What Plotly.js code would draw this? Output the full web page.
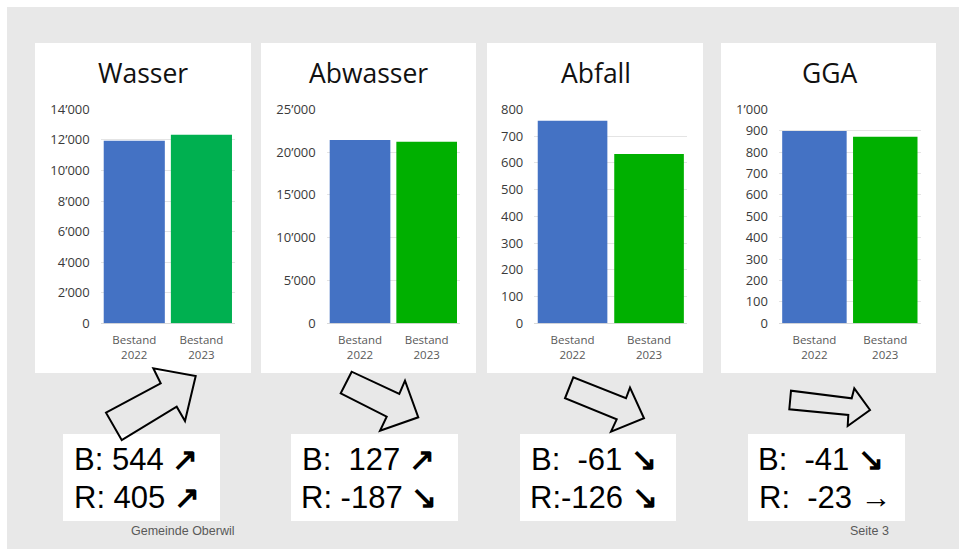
<!DOCTYPE html>
<html>
<head>
<meta charset="utf-8">
<script src="https://cdn.plot.ly/plotly-3.0.1.min.js"></script>
<style>html,body{margin:0;padding:0;background:#fff;}#chart{width:959px;height:549px;}</style>
</head>
<body>
<div id="chart"></div>
<script>
// ---- data ----
var categories = ["Bestand<br>2022", "Bestand<br>2023"];
var panelTitles = ["Wasser", "Abwasser", "Abfall", "GGA"];
var wasser = [11950, 12340];
var abwasser = [21400, 21200];
var abfall = [757, 633];
var gga = [899, 872];
var yMax = [14000, 25000, 800, 1000];
var yStep = [2000, 5000, 100, 100];
var bLabels = ["B: 544 ↗", "B:  127 ↗", "B:  -61 ↘", "B:  -41 ↘"];
var rLabels = ["R: 405 ↗", "R: -187 ↘", "R:-126 ↘", "R:  -23 →"];
var footerLeft = "Gemeinde Oberwil";
var footerRight = "Seite 3";

// ---- styles / layout geometry (pixels) ----
var W = 959, H = 549;
function X(px) { return px / W; }
function Y(py) { return 1 - py / H; }
var seriesData = [wasser, abwasser, abfall, gga];
var blue = "#4472C4";
var greens = ["#00B050", "#00B000", "#00B000", "#00B000"];
var plotX = [[100.7, 235], [326.7, 460], [534.3, 687.3], [779, 920.7]];
var plotY = [109.3, 323.3];
var panels = [[35, 251], [261, 476], [487, 703], [721, 936]];
var panelY = [43, 373];
var boxes = [[63, 220], [291, 458], [520, 676], [748, 905]];
var boxY = [434, 521];
var titleX = [142.5, 368.7, 596, 830];
var textX = [[72, 72], [299.5, 298.5], [528.5, 528], [756, 757]];

var traces = [];
var layout = {
  width: W, height: H,
  margin: {l: 0, r: 0, t: 0, b: 0, pad: 0},
  paper_bgcolor: "#ffffff",
  plot_bgcolor: "rgba(0,0,0,0)",
  showlegend: false,
  separators: ".’",
  bargap: 0.09,
  shapes: [],
  annotations: []
};

// grey slide background
layout.shapes.push({type: "rect", xref: "paper", yref: "paper", x0: X(7), x1: 1.02, y0: -0.02, y1: Y(7),
  fillcolor: "#e8e8e8", line: {width: 0}, layer: "below"});

function arrowSpan(t) {
  return t.replace(/  /g, " \u00a0").replace(/([↗↘→])/g, "<b>$1</b>");
}

for (var i = 0; i < 4; i++) {
  var s = i === 0 ? "" : String(i + 1);
  traces.push({
    type: "bar", x: categories, y: seriesData[i],
    xaxis: "x" + s, yaxis: "y" + s,
    marker: {color: [blue, greens[i]], line: {width: 0}},
    hoverinfo: "skip"
  });
  layout["xaxis" + s] = {
    domain: [X(plotX[i][0]), X(plotX[i][1])], anchor: "y" + s,
    type: "category", showgrid: false, zeroline: false, showline: false, ticks: "",
    tickfont: {family: "Open Sans, sans-serif", size: 11.5, color: "#595959"},
    ticklabelstandoff: 8, fixedrange: true
  };
  layout["yaxis" + s] = {
    domain: [Y(plotY[1]), Y(plotY[0])], anchor: "x" + s,
    range: [0, yMax[i]], dtick: yStep[i], tick0: 0,
    tickformat: ",d", separatethousands: true, exponentformat: "none",
    showgrid: true, gridcolor: "#e4e4e4", gridwidth: 1,
    zeroline: true, zerolinecolor: "#d9d9d9", zerolinewidth: 1,
    showline: false, ticks: "",
    tickfont: {family: "Open Sans, sans-serif", size: 13, color: "#3a3a3a"},
    ticklabelstandoff: 10, fixedrange: true
  };
  // white panel
  layout.shapes.push({type: "rect", xref: "paper", yref: "paper",
    x0: X(panels[i][0]), x1: X(panels[i][1]), y0: Y(panelY[1]), y1: Y(panelY[0]),
    fillcolor: "#ffffff", line: {width: 0}, layer: "below"});
  // white text box
  layout.shapes.push({type: "rect", xref: "paper", yref: "paper",
    x0: X(boxes[i][0]), x1: X(boxes[i][1]), y0: Y(boxY[1]), y1: Y(boxY[0]),
    fillcolor: "#ffffff", line: {width: 0}, layer: "below"});
  // panel title
  layout.annotations.push({xref: "paper", yref: "paper", x: X(titleX[i]), y: Y(72.5),
    xanchor: "center", yanchor: "middle", showarrow: false, text: panelTitles[i],
    font: {family: "Open Sans, sans-serif", size: 26.5, color: "#111111"}});
  // B / R lines
  var lines = [bLabels[i], rLabels[i]];
  var lineY = [459.3, 497];
  for (var k = 0; k < 2; k++) {
    layout.annotations.push({xref: "paper", yref: "paper", x: X(textX[i][k]), y: Y(lineY[k]),
      xanchor: "left", yanchor: "middle", showarrow: false,
      text: arrowSpan(lines[k]),
      font: {family: "Liberation Sans, Arial, sans-serif", size: 31, color: "#000000"}});
  }
}

// hollow block arrows (decoration)
var arrows = [
  [[121.7,440],[106,412.7],[160.7,383.3],[153.3,368.3],[195.7,376],[185,421],[176.7,406.7]],
  [[351.7,371.7],[340.7,393.3],[386.7,416.7],[380,430.7],[418.3,417.3],[405,380.7],[399.3,394]],
  [[573.3,377.3],[565,398.3],[616.7,419.3],[611,431.7],[644,418.3],[630,387.7],[626,398.3]],
  [[791,390.7],[789.3,409.3],[848.3,415],[847.7,426],[870,410],[854.3,388.3],[851.7,398.3]]
];
arrows.forEach(function (pts) {
  var p = pts.map(function (q, j) { return (j ? "L" : "M") + X(q[0]).toFixed(5) + "," + Y(q[1]).toFixed(5); }).join(" ") + " Z";
  layout.shapes.push({type: "path", xref: "paper", yref: "paper", path: p,
    fillcolor: "rgba(0,0,0,0)", line: {color: "#000000", width: 2}, layer: "above"});
});

// footer
layout.annotations.push({xref: "paper", yref: "paper", x: X(183), y: Y(530.5), xanchor: "center", yanchor: "middle",
  showarrow: false, text: footerLeft, font: {family: "Liberation Sans, Arial, sans-serif", size: 12.5, color: "#595959"}});
layout.annotations.push({xref: "paper", yref: "paper", x: X(869), y: Y(530.5), xanchor: "center", yanchor: "middle",
  showarrow: false, text: footerRight, font: {family: "Liberation Sans, Arial, sans-serif", size: 12.5, color: "#595959"}});

Plotly.newPlot("chart", traces, layout, {staticPlot: true, displayModeBar: false});
</script>
</body>
</html>
